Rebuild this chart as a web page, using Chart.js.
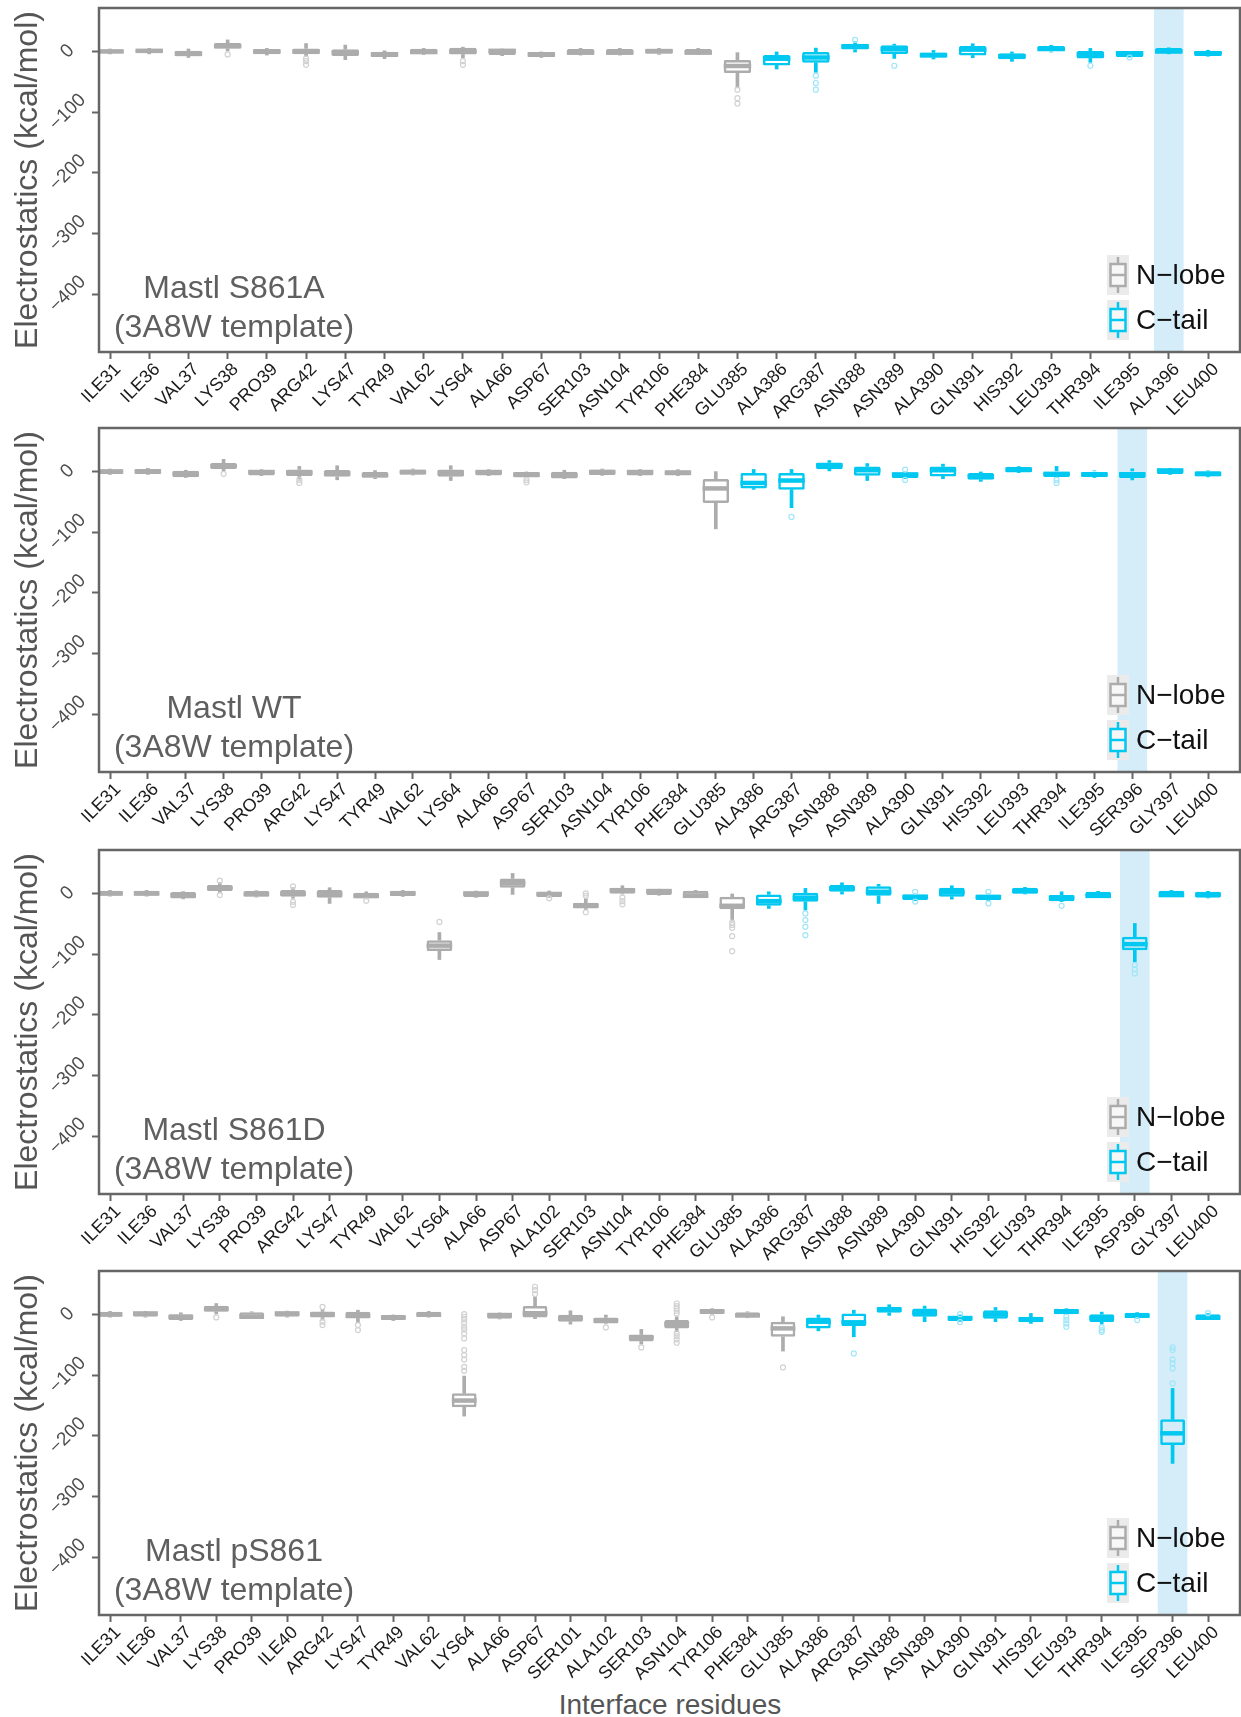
<!DOCTYPE html>
<html>
<head>
<meta charset="utf-8">
<script src="https://cdn.jsdelivr.net/npm/chart.js@4.4.1/dist/chart.umd.min.js"></script>
<style>
  html, body { margin: 0; padding: 0; background: #fff; }
  body { width: 1241px; height: 1717px; position: relative; overflow: hidden; font-family: 'Liberation Sans', Arial, sans-serif; }
  .panel { position: absolute; left: 0; width: 1241px; height: 424px; }
  .panel canvas { position: absolute; left: 0; top: 0; }
  .tag { position: absolute; left: 34px; width: 400px; text-align: center; font-size: 32px; line-height: 32px; color: #5f5f5f; white-space: nowrap; }
  .key { position: absolute; left: 1107px; width: 22px; height: 40px; }
  .key-text { position: absolute; left: 1136px; font-size: 28px; line-height: 28px; color: #111; white-space: nowrap; }
  .x-title { position: absolute; left: 470px; width: 400px; top: 1691px; text-align: center; font-size: 28px; line-height: 28px; color: #555; }
</style>
</head>
<body>
<div class="x-title">Interface residues</div>
<script>
// Box statistics per residue (kcal/mol)

// Mastl S861A
const s861aResidues = ['ILE31','ILE36','VAL37','LYS38','PRO39','ARG42','LYS47','TYR49','VAL62','LYS64','ALA66','ASP67','SER103','ASN104','TYR106','PHE384','GLU385','ALA386','ARG387','ASN388','ASN389','ALA390','GLN391','HIS392','LEU393','THR394','ILE395','ALA396','LEU400'];
const s861aLow = [-4,-4,-10,0,-6,-8,-13.5,-12,-5,-11,-7,-10,-6,-6,-5,-5,-60,-29,-34.5,-1,-11.5,-12.5,-10.4,-16.4,-1,-18,-9.3,-4,-8];
const s861aQ1 = [-3,-3,-8,4.5,-4.5,-4.5,-7.5,-9,-4,-5,-6,-9,-5,-5,-4,-4.5,-35.5,-23,-18.7,3,-4.3,-10.4,-6.6,-13,0,-11.5,-9.3,-3.3,-7.6];
const s861aMedian = [0,1,-4,9,0,0,-2,-5,-1,0,1,-5,-2,-2,0.5,-2,-24,-12,-10,8,4,-6,3,-8,4,-5,-3,0,-3];
const s861aQ3 = [3,4,1,13.8,4,5,3.5,-0.5,4.5,6,3.5,-1,4,4,4.5,4,-14,-6,-1,12.7,10,-1.6,8.8,-3.2,8.8,0.6,-0.5,5.5,1.2];
const s861aHigh = [4,5,4,19,5,13,10.5,1,5,7,4,0,5,5,5,5,-2,0,5.5,16,12,1.7,12.7,0,10,5,0,6,2];
const s861aOutliers = [[],[],[],[-5],[],[-12,-16,-22],[],[],[],[-16,-22],[],[],[],[],[],[],[-63,-77,-86],[],[-40,-52,-63],[19],[-23.6],[],[],[],[],[-23.6],[-10],[],[]];

// Mastl WT
const wtResidues = ['ILE31','ILE36','VAL37','LYS38','PRO39','ARG42','LYS47','TYR49','VAL62','LYS64','ALA66','ASP67','SER103','ASN104','TYR106','PHE384','GLU385','ALA386','ARG387','ASN388','ASN389','ALA390','GLN391','HIS392','LEU393','THR394','ILE395','SER396','GLY397','LEU400'];
const wtLow = [-5,-5,-10,0,-7,-12.7,-13.8,-12,-6,-15,-7,-10.5,-12,-6.5,-7,-7,-94.6,-29.6,-59.7,0,-15,-12,-12,-16.4,-2,-10,-10,-14,-5,-9];
const wtQ1 = [-4.3,-4.3,-9.4,4,-6.6,-7.7,-8.8,-10.5,-5.5,-8.8,-6.6,-9.9,-11.5,-6,-6.6,-6.6,-52,-28,-30,3.8,-7.1,-11,-8.2,-13.7,-1.6,-9.3,-9.3,-11,-4.4,-8.3];
const wtMedian = [0,0,-4,9,-1,-2,-3,-6,-1,-2,-1,-5,-6,-1,-1,-2,-28,-19,-15,10,2,-5,2,-8,3,-4,-5,-5,1.6,-4];
const wtQ3 = [3.3,4,1.1,13.8,2,3.3,2.2,-1,3.3,3.3,2,-1,-0.5,3.3,2,2,-12.6,-2.5,-2.5,14.8,8.3,-1.6,8.3,-2.7,7.2,0,0,0,4.4,0.5];
const wtHigh = [4,5,2,20,3,8.3,9.4,1.5,4,9.4,3,0,2,4,3,3,-0.3,3.3,3.3,18,13,0,12,0,8,8.3,1,4.4,5,1];
const wtOutliers = [[],[],[],[-4],[],[-14,-19],[],[],[],[],[],[-14,-18],[],[],[],[],[],[],[-75],[],[],[3,-14],[],[],[],[-14,-19],[],[],[],[]];

// Mastl S861D
const s861dResidues = ['ILE31','ILE36','VAL37','LYS38','PRO39','ARG42','LYS47','TYR49','VAL62','LYS64','ALA66','ASP67','ALA102','SER103','ASN104','TYR106','PHE384','GLU385','ALA386','ARG387','ASN388','ASN389','ALA390','GLN391','HIS392','LEU393','THR394','ILE395','ASP396','GLY397','LEU400'];
const s861dLow = [-4.5,-4.5,-9,0,-6,-8,-16.5,-9,-5,-109,-6.5,-1.6,-6.5,-27,-1,-3,-5,-45.6,-24.8,-27.5,-1.1,-16.5,-12,-9.4,-12,-1,-13.5,-6.5,-112.8,-5,-7.5];
const s861dQ1 = [-3.9,-3.9,-8.3,3.9,-5.5,-5.5,-7,-8.3,-4.4,-95,-6,9.4,-6,-24.8,-0.5,-2.7,-4.4,-25.9,-20.4,-13.8,2.7,-3.9,-11,-5.5,-11,-0.5,-12.7,-6,-93.5,-4.4,-7];
const s861dMedian = [0,0,-3,9,-1,0,-1,-4,0,-86,0,17,-1,-20,5,3.9,-3.9,-20.4,-12.7,-7,8,2.7,-5.5,2,-6,4,-7,-4,-83.6,-2.7,-2];
const s861dQ3 = [4.4,4.4,2.2,13.8,3.9,5.5,5.5,1,4.4,-77,2.7,24.8,2.7,-15.4,9.4,5.5,4.4,-5.5,-1.6,1.1,13.8,12,-1.6,9.4,-1.6,9.4,-2.7,2.7,-71.5,4.4,2.7];
const s861dHigh = [5,5,3,18,4.5,9.4,9.4,2.7,5,-64.4,4,33,4,-8,12.7,7,5,0,2.7,8.3,17.6,15,0,12.7,0,10,2.7,3.5,-49.5,5,3.5];
const s861dOutliers = [[],[],[],[21,-2.7],[],[11.5,-13.8,-19],[],[-12],[],[-47],[],[],[-8],[0,-3.9,-31],[-7,-12.7,-18],[],[],[-48,-52,-56.7,-70.4,-95.2],[],[-33,-44,-55,-68.8],[],[],[2.7,-13.5],[],[2.7,-16.5],[],[-20.4],[],[-118,-125,-132],[],[]];

// Mastl pS861
const ps861Residues = ['ILE31','ILE36','VAL37','LYS38','PRO39','ILE40','ARG42','LYS47','TYR49','VAL62','LYS64','ALA66','ASP67','SER101','ALA102','SER103','ASN104','TYR106','PHE384','GLU385','ALA386','ARG387','ASN388','ASN389','ALA390','GLN391','HIS392','LEU393','THR394','ILE395','SEP396','LEU400'];
const ps861Low = [-4.5,-4.5,-10,0,-5.5,-4.5,-9.3,-13.7,-10,-4.5,-167.6,-7.5,-7,-16,-14.8,-49,-28.6,0,-5.5,-60.4,-27,-36.8,-1.6,-12,-11.5,-12,-14.8,0,-16,-6.5,-245.6,-8.5];
const ps861Q1 = [-3.8,-3.8,-9.3,4.4,-5,-3.8,-5,-6.6,-9.3,-3.8,-153,-7.1,-5,-12,-14.8,-44.5,-23,0,-5,-36.8,-23,-19.2,2.7,-3.8,-11,-7,-13,0.5,-12.6,-6,-215.4,-8.2];
const ps861Median = [0,1.6,-4,9,-3.8,1.6,0,-2,-5,-0.5,-142,-1,2,-6,-10,-38,-16,5,-1.6,-23,-12,-13,8,3,-6,0,-8,5,-6,-2,-196,-5.5];
const ps861Q3 = [4.4,4.4,0.5,14.3,3.8,5,5,4.4,-1,4.4,-130,1.6,13.7,-0.5,-5,-33,-9.3,8.8,3.8,-12,-5,1.6,12.6,9.9,-2.2,7,-3.8,8.8,0.5,2.7,-173,0.5];
const ps861High = [5,5,2.7,18,4.4,5.5,8.2,7,0,5,-101.6,2.5,30,6,-1,-24.7,-3.8,9.5,4.4,-3.8,-1,7,16,13.7,0,11.5,1.6,9.5,3.8,3,-122,1.5];
const ps861Outliers = [[],[],[],[-5],[],[],[12.6,-12,-17.6],[-17.6,-25.8],[],[],[0.5,-3.8,-8.2,-13.7,-20.3,-24.7,-31.3,-39.6,-58.8,-67,-74.2,-86.3,-92.9],[],[33.5,40,45.6],[],[-21.4],[-54.4],[18,13.7,9.9,6,1.6,-31,-35.7,-41,-46.7],[-5],[],[-87.4],[],[-64.3],[],[],[0.5,-12.6],[],[],[-3.8,-9.3,-14.8,-20.3],[-21.4,-25.8,-28.6],[-9.3],[-54.4,-58.8,-74.2,-80.8,-89,-113.7],[2]];

const panelNames = ['Mastl S861A', 'Mastl WT', 'Mastl S861D', 'Mastl pS861'];
const templateName = '(3A8W template)';
const highlightedResidues = ['ALA396', 'SER396', 'ASP396', 'SEP396'];
const firstCtail = 'ALA386';
const groupNames = ['N\u2212lobe', 'C\u2212tail'];
const yTickValues = [-400, -300, -200, -100, 0];
const yTickLabels = ['\u2212400', '\u2212300', '\u2212200', '\u2212100', '0'];
const yMin = -495.5;
const yMax = 71.6;

// styles / layout
const GREY = '#acacac';
const GREY_FAINT = '#d2d2d2';
const CYAN = '#00c8f0';
const CYAN_FAINT = '#9fe6f8';
const BAND = '#d5edf8';
const BOX_WIDTH = 0.7;
const panelTops = [0, 420, 842, 1263];
const FRAME_LEFT = 99, FRAME_RIGHT = 1240, FIRST_TICK = 110, LAST_TICK = 1208;

Chart.defaults.font.family = "'Liberation Sans', Arial, sans-serif";

const panels = [
  { residues: s861aResidues, low: s861aLow, q1: s861aQ1, median: s861aMedian, q3: s861aQ3, high: s861aHigh, outliers: s861aOutliers },
  { residues: wtResidues, low: wtLow, q1: wtQ1, median: wtMedian, q3: wtQ3, high: wtHigh, outliers: wtOutliers },
  { residues: s861dResidues, low: s861dLow, q1: s861dQ1, median: s861dMedian, q3: s861dQ3, high: s861dHigh, outliers: s861dOutliers },
  { residues: ps861Residues, low: ps861Low, q1: ps861Q1, median: ps861Median, q3: ps861Q3, high: ps861High, outliers: ps861Outliers }
];

// panel border on all four sides
const framePlugin = {
  id: 'frame',
  afterDraw(chart) {
    const { ctx, chartArea: a } = chart;
    ctx.save();
    ctx.strokeStyle = '#666';
    ctx.lineWidth = 2.5;
    ctx.strokeRect(a.left, a.top, a.right - a.left, a.bottom - a.top);
    ctx.restore();
  }
};

function halfBox(ctx) {
  const s = ctx.chart.scales.x;
  return Math.abs(s.getPixelForValue(2) - s.getPixelForValue(1)) * BOX_WIDTH / 2;
}

function buildDatasets(p, highlight) {
  const split = p.residues.indexOf(firstCtail);
  const groups = [
    { from: 0, to: split, color: GREY, faint: GREY_FAINT },
    { from: split, to: p.residues.length, color: CYAN, faint: CYAN_FAINT }
  ];
  const sets = [{
    type: 'bar',
    data: [{ x: p.residues.indexOf(highlight) + 1, y: [yMin, yMax] }],
    backgroundColor: BAND,
    barThickness: 29,
    grouped: false,
    order: 10
  }];
  groups.forEach(g => {
    const whiskers = [], boxes = [], medians = [], outliers = [];
    for (let i = g.from; i < g.to; i++) {
      const x = i + 1;
      whiskers.push({ x, y: [p.low[i], p.q1[i]] }, { x, y: [p.q3[i], p.high[i]] });
      boxes.push({ x, y: [p.q1[i], p.q3[i]] });
      medians.push({ x, y: p.median[i] });
      p.outliers[i].forEach(v => outliers.push({ x, y: v }));
    }
    sets.push({ type: 'bar', data: whiskers, backgroundColor: g.color, barThickness: 3, grouped: false, order: 4 });
    sets.push({
      type: 'bar', data: boxes,
      backgroundColor: 'rgba(255,255,255,0)', borderColor: g.color, borderWidth: 2.5,
      borderSkipped: false, borderRadius: 1.5,
      categoryPercentage: 1, barPercentage: BOX_WIDTH, grouped: false, order: 3
    });
    sets.push({
      type: 'scatter', data: medians, pointStyle: 'line',
      pointBorderColor: g.color, pointBorderWidth: 4.5, pointRadius: halfBox, order: 2
    });
    sets.push({
      type: 'scatter', data: outliers, pointStyle: 'circle',
      pointRadius: 2.5, pointBorderWidth: 1.2, pointBorderColor: g.faint,
      pointBackgroundColor: 'rgba(255,255,255,0)', order: 1
    });
  });
  return sets;
}

function makePanel(p, idx) {
  const wrap = document.createElement('div');
  wrap.className = 'panel';
  wrap.style.top = panelTops[idx] + 'px';
  document.body.appendChild(wrap);

  const canvas = document.createElement('canvas');
  canvas.width = 1241;
  canvas.height = 424;
  wrap.appendChild(canvas);

  const n = p.residues.length;
  const step = (LAST_TICK - FIRST_TICK) / (n - 1);
  const xMin = 1 - (FIRST_TICK - FRAME_LEFT) / step;
  const xMax = n + (FRAME_RIGHT - LAST_TICK) / step;

  const tickGrid = { display: true, drawOnChartArea: false, drawTicks: true, tickLength: 7, tickWidth: 2, tickColor: '#666', offset: false };

  new Chart(canvas, {
    type: 'bar',
    data: { datasets: buildDatasets(p, highlightedResidues[idx]) },
    options: {
      responsive: false,
      animation: false,
      events: [],
      layout: { autoPadding: false, padding: { top: 8, right: 1, left: 0, bottom: 0 } },
      plugins: { legend: { display: false }, tooltip: { enabled: false } },
      scales: {
        x: {
          type: 'linear', min: xMin, max: xMax, offset: false,
          afterBuildTicks: s => { s.ticks = p.residues.map((r, i) => ({ value: i + 1 })); },
          afterFit: s => { s.height = 72; s.paddingLeft = 0; s.paddingRight = 0; },
          ticks: {
            autoSkip: false, minRotation: 45, maxRotation: 45, padding: 0, labelOffset: 8,
            color: '#1a1a1a', font: { size: 18 },
            callback: (v, i) => p.residues[i]
          },
          grid: tickGrid,
          border: { display: false }
        },
        y: {
          type: 'linear', min: yMin, max: yMax,
          afterBuildTicks: s => { s.ticks = yTickValues.map(v => ({ value: v })); },
          afterFit: s => { s.width = FRAME_LEFT; s.paddingTop = 0; s.paddingBottom = 0; },
          ticks: {
            minRotation: 45, maxRotation: 45, padding: 3, crossAlign: 'center',
            color: '#4d4d4d', font: { size: 19 },
            callback: (v, i) => yTickLabels[i]
          },
          grid: tickGrid,
          border: { display: false },
          title: {
            display: true, text: 'Electrostatics (kcal/mol)',
            color: '#555', font: { size: 32 }, padding: { top: 9, bottom: 0 }
          }
        }
      }
    },
    plugins: [framePlugin]
  });

  // panel label
  [panelNames[idx], templateName].forEach((t, k) => {
    const d = document.createElement('div');
    d.className = 'tag';
    d.style.top = (8 + 262.6 + k * 39) + 'px';
    d.textContent = t;
    wrap.appendChild(d);
  });

  // legend
  [GREY, CYAN].forEach((c, k) => {
    const key = document.createElementNS('http://www.w3.org/2000/svg', 'svg');
    key.setAttribute('class', 'key');
    key.setAttribute('width', 22);
    key.setAttribute('height', 40);
    key.style.top = (8 + 247 + k * 45) + 'px';
    key.innerHTML =
      '<rect x="0" y="0" width="22" height="40" fill="#ebebeb"/>' +
      '<line x1="11" y1="2" x2="11" y2="38" stroke="' + c + '" stroke-width="2.5"/>' +
      '<rect x="3.5" y="9" width="15" height="22" fill="#f7f7f7" stroke="' + c + '" stroke-width="2.5"/>' +
      '<line x1="3.5" y1="20" x2="18.5" y2="20" stroke="' + c + '" stroke-width="2.5"/>';
    wrap.appendChild(key);

    const label = document.createElement('div');
    label.className = 'key-text';
    label.style.top = (8 + 253.3 + k * 45) + 'px';
    label.textContent = groupNames[k];
    wrap.appendChild(label);
  });
}

panels.forEach(makePanel);
</script>
</body>
</html>
